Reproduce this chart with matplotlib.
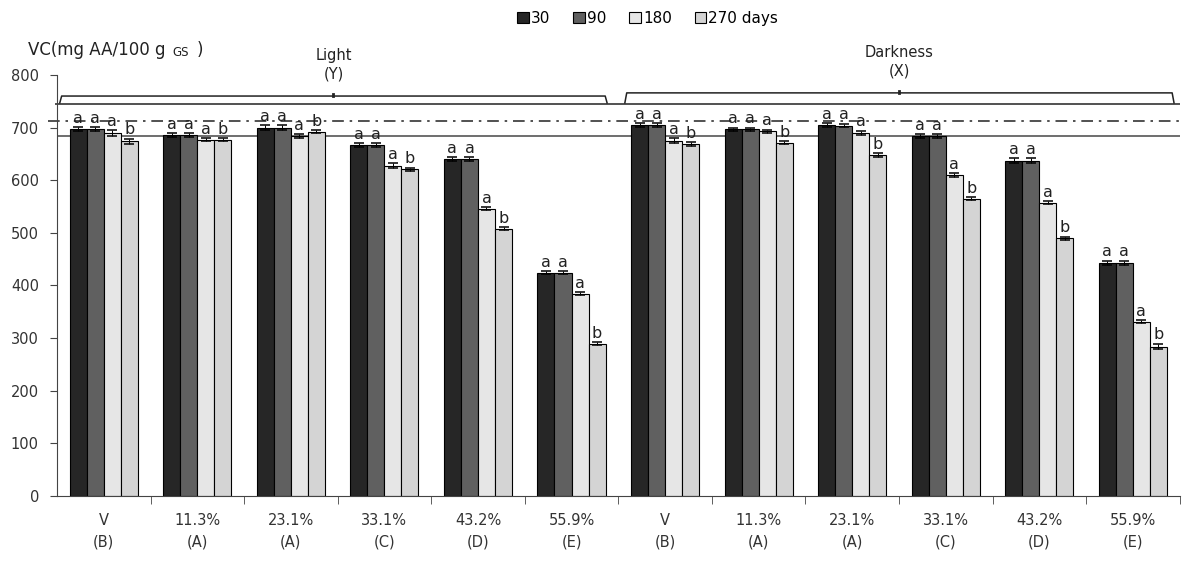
import matplotlib.pyplot as plt
import numpy as np

# VC content by storage time, six moisture levels under light and in darkness
groups = ['V\n(B)', '11.3%\n(A)', '23.1%\n(A)', '33.1%\n(C)', '43.2%\n(D)', '55.9%\n(E)'] * 2
days = ['30', '90', '180', '270 days']

light_30 = [697, 686, 700, 667, 640, 424]
light_90 = [697, 686, 700, 667, 640, 424]
light_180 = [690, 677, 684, 628, 546, 384]
light_270 = [674, 677, 692, 621, 508, 289]
dark_30 = [705, 697, 705, 684, 637, 443]
dark_90 = [705, 697, 704, 684, 637, 443]
dark_180 = [675, 693, 690, 610, 557, 331]
dark_270 = [669, 671, 648, 565, 490, 284]

err_30 = [4, 3, 5, 3, 4, 3, 3, 3, 3, 3, 5, 4]
err_90 = [4, 3, 5, 3, 4, 3, 3, 3, 3, 3, 5, 4]
err_180 = [5, 3, 3, 4, 3, 3, 5, 3, 4, 3, 3, 3]
err_270 = [5, 3, 3, 3, 3, 3, 3, 3, 3, 3, 3, 5]

letters = ['a', 'a', 'a', 'b']

colors = ['#262626', '#606060', '#e6e6e6', '#d4d4d4']

series = [light_30 + dark_30, light_90 + dark_90, light_180 + dark_180, light_270 + dark_270]
errs = [err_30, err_90, err_180, err_270]

fig = plt.figure(figsize=(11.82, 5.63), dpi=100)
ax = fig.add_axes([0.0482, 0.119, 0.9498, 0.7478])

x = np.arange(len(groups)) + 0.5
w = 0.182
for k in range(4):
  pos = x + (k - 1.5) * w
  ax.bar(pos, series[k], w, color=colors[k], edgecolor='black', linewidth=0.8,
         label=days[k], zorder=2)
  ax.errorbar(pos, series[k], yerr=errs[k], fmt='none', ecolor='black',
              elinewidth=0.7, capsize=3.5, capthick=1.1, zorder=3)
  for p, v, e in zip(pos, series[k], errs[k]):
    ax.text(p, v + e + 17, letters[k], ha='center', va='center', fontsize=11.5,
            color='#222222', zorder=4)

# reference lines
ax.axhline(684, color='#555555', lw=1.2, zorder=1)
ax.hlines(713, -0.1, 12, colors='#333333', lw=1.2, linestyles=(0, (7, 3.5, 1.5, 3.5)),
          clip_on=False, zorder=1)
ax.hlines(745, -0.02, 12, colors='#222222', lw=1.1, clip_on=False, zorder=1)

# brackets for the two storage conditions
def bracket(x0, x1, top, label):
  xc = (x0 + x1) / 2
  ax.plot([x0, x0 + 0.02, x1 - 0.02, x1], [747, top, top, 747], color='#222222',
          lw=1.1, clip_on=False)
  ax.plot([xc, xc], [top, top + 4], color='#222222', lw=2, clip_on=False)
  ax.text(xc, top + 28, label, ha='center', va='bottom', fontsize=10.5,
          linespacing=1.3, color='#222222')

bracket(0.03, 5.88, 760, 'Light\n(Y)')
bracket(6.07, 11.94, 766, 'Darkness\n(X)')

ax.set_xlim(0, 12)
ax.set_ylim(0, 800)
ax.set_yticks(np.arange(0, 801, 100))
ax.set_xticks(x)
ax.set_xticklabels(groups, fontsize=10.5, linespacing=1.6, color='#333333')
ax.set_xticks(np.arange(1, 13), minor=True)
ax.tick_params(axis='x', which='major', length=0, pad=12)
ax.tick_params(axis='x', which='minor', length=6, direction='out', color='#444444')
ax.tick_params(axis='y', length=5, direction='out', labelsize=10.5, pad=8,
               labelcolor='#333333', color='#444444')

for s in ['top', 'right']:
  ax.spines[s].set_visible(False)
ax.spines['left'].set_color('#444444')
ax.spines['bottom'].set_color('#444444')

# y axis title with small-caps GS
t1 = fig.text(0.024, 0.911, 'VC(mg AA/100 g', fontsize=12, va='center', ha='left',
              color='#222222')
t2 = ax.annotate('GS', xy=(1, 0), xycoords=t1, xytext=(5, 2.2), textcoords='offset points',
                 fontsize=8.5, va='baseline', ha='left', color='#222222')
ax.annotate(')', xy=(1, 0), xycoords=t1, xytext=(22, 0), textcoords='offset points',
            fontsize=12, va='bottom', ha='left', color='#222222')

fig.legend(loc='center', bbox_to_anchor=(0.548, 0.968), ncol=4, frameon=False,
           fontsize=11, handlelength=0.75, handleheight=0.75, handletextpad=0.15,
           columnspacing=1.5, borderaxespad=0)

fig.savefig('out.png', dpi=100)
